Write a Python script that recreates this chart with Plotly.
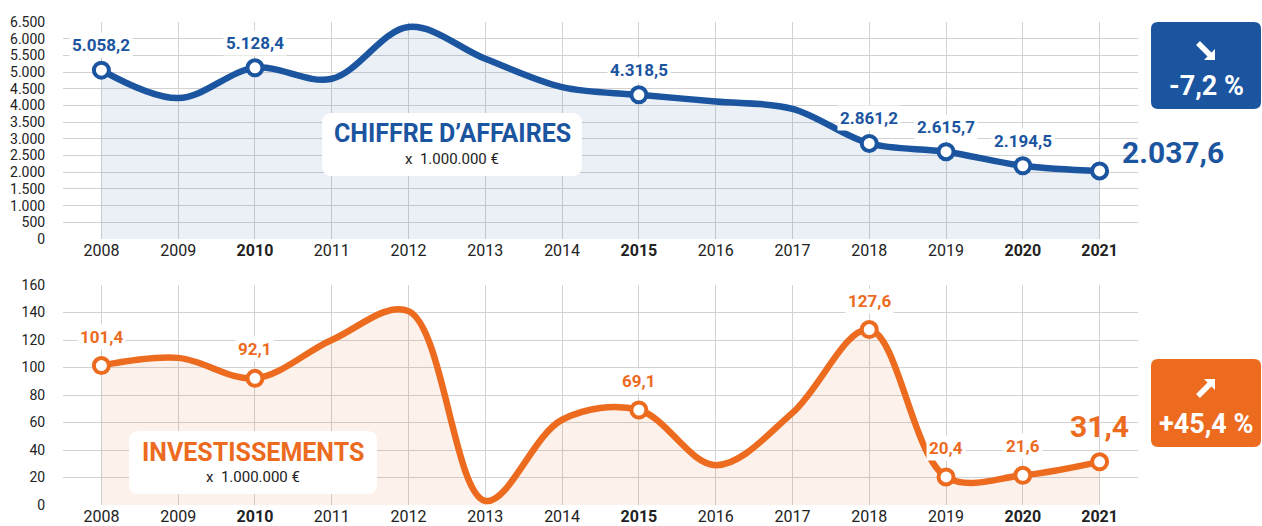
import plotly.graph_objects as go

years = ["2008", "2009", "2010", "2011", "2012", "2013", "2014", "2015", "2016", "2017", "2018", "2019", "2020", "2021"]
bold_years = ["2010", "2015", "2020", "2021"]
ca_values = [5058.2, 4220, 5128.4, 4800, 6350, 5400, 4550, 4318.5, 4120, 3900, 2861.2, 2615.7, 2194.5, 2037.6]
inv_values = [101.4, 107, 92.1, 120, 141, 3, 62, 69.1, 29, 67, 127.6, 20.4, 21.6, 31.4]
labeled_years = ["2008", "2010", "2015", "2018", "2019", "2020", "2021"]
ca_labels = ["5.058,2", "5.128,4", "4.318,5", "2.861,2", "2.615,7", "2.194,5", "2.037,6"]
inv_labels = ["101,4", "92,1", "69,1", "127,6", "20,4", "21,6", "31,4"]
ca_ticks = [0, 500, 1000, 1500, 2000, 2500, 3000, 3500, 4000, 4500, 5000, 5500, 6000, 6500]
ca_ticktext = ["0", "500", "1.000", "1.500", "2.000", "2.500", "3.000", "3.500", "4.000", "4.500", "5.000", "5.500", "6.000", "6.500"]
inv_ticks = [0, 20, 40, 60, 80, 100, 120, 140, 160]
ca_title = "CHIFFRE D’AFFAIRES"
inv_title = "INVESTISSEMENTS"
unit = "x  1.000.000 €"
ca_change = "-7,2 %"
inv_change = "+45,4 %"

BLUE = "#1b55a0"
ORANGE = "#ec6b1f"
GRID = "#d2d2d2"
FONT = "Roboto, sans-serif"
W, H = 1262, 526

xi = list(range(len(years)))
ticktext_x = [f"<b>{y}</b>" if y in bold_years else y for y in years]
lab_idx = [years.index(y) for y in labeled_years]

fig = go.Figure()

def add_series(vals, color, fillc, xa, ya):
    fig.add_trace(go.Scatter(x=xi, y=vals, mode="lines", line=dict(color=color, width=6.5, shape="spline", smoothing=1.0),
                             fill="tozeroy", fillcolor=fillc, xaxis=xa, yaxis=ya, hoverinfo="skip", showlegend=False))
    fig.add_trace(go.Scatter(x=[xi[i] for i in lab_idx], y=[vals[i] for i in lab_idx], mode="markers",
                             marker=dict(size=15, color="white", line=dict(color=color, width=4)),
                             xaxis=xa, yaxis=ya, hoverinfo="skip", showlegend=False))

add_series(ca_values, BLUE, "rgba(27,85,160,0.09)", "x", "y")
add_series(inv_values, ORANGE, "rgba(236,107,31,0.09)", "x2", "y2")

def px2x(x):
    return x / W

def px2y(y):
    return 1 - y / H

xdom = [px2x(63), px2x(1138)]
axis_common = dict(showgrid=True, gridcolor=GRID, gridwidth=1, zeroline=False, showline=False, automargin=False)
fig.update_layout(
    template="none",
    width=W, height=H, margin=dict(l=0, r=0, t=0, b=0, pad=0), autosize=False,
    paper_bgcolor="white", plot_bgcolor="white",
    font=dict(family=FONT, color="#222"),
    xaxis=dict(domain=xdom, range=[-0.5, 13.5], tickvals=xi, ticktext=ticktext_x, tickfont=dict(size=16, color="#222"),
               ticks="", anchor="y", **axis_common),
    yaxis=dict(domain=[px2y(239), px2y(22)], range=[0, 6500], tickvals=ca_ticks, ticktext=ca_ticktext,
               tickfont=dict(size=14, color="#222"), ticks="outside", ticklen=14, tickcolor="rgba(0,0,0,0)",
               anchor="x", **axis_common),
    xaxis2=dict(domain=xdom, range=[-0.5, 13.5], tickvals=xi, ticktext=ticktext_x, tickfont=dict(size=16, color="#222"),
                ticks="", anchor="y2", **axis_common),
    yaxis2=dict(domain=[px2y(505), px2y(285)], range=[0, 160], tickvals=inv_ticks,
                tickfont=dict(size=14, color="#222"), ticks="outside", ticklen=14, tickcolor="rgba(0,0,0,0)",
                anchor="x2", **axis_common),
)

# point labels
for k, i in enumerate(lab_idx):
    last = (i == len(years) - 1)
    if last:
        fig.add_annotation(x=xi[i], y=ca_values[i], xref="x", yref="y", text=f"<b>{ca_labels[k]}</b>", showarrow=False,
                           xanchor="left", xshift=20, yshift=18, font=dict(size=30, color=BLUE, family=FONT))
        fig.add_annotation(x=xi[i], y=inv_values[i], xref="x2", yref="y2", text=f"<b>{inv_labels[k]}</b>", showarrow=False,
                           yshift=35, font=dict(size=30, color=ORANGE, family=FONT))
    else:
        fig.add_annotation(x=xi[i], y=ca_values[i], xref="x", yref="y", text=f"<b>{ca_labels[k]}</b>", showarrow=False,
                           yshift=25, bgcolor="white", borderpad=2, font=dict(size=17, color=BLUE, family=FONT))
        fig.add_annotation(x=xi[i], y=inv_values[i], xref="x2", yref="y2", text=f"<b>{inv_labels[k]}</b>", showarrow=False,
                           yshift=29, bgcolor="white", borderpad=2, font=dict(size=17, color=ORANGE, family=FONT))

def rrect(x0, y0, x1, y1, r, color):
    X0, X1 = px2x(x0), px2x(x1)
    Y0, Y1 = px2y(y0), px2y(y1)
    rx, ry = r / W, r / H
    path = (f"M {X0+rx} {Y0} L {X1-rx} {Y0} Q {X1} {Y0} {X1} {Y0-ry} "
            f"L {X1} {Y1+ry} Q {X1} {Y1} {X1-rx} {Y1} L {X0+rx} {Y1} Q {X0} {Y1} {X0} {Y1+ry} "
            f"L {X0} {Y0-ry} Q {X0} {Y0} {X0+rx} {Y0} Z")
    fig.add_shape(type="path", path=path, xref="paper", yref="paper", fillcolor=color, line=dict(width=0), layer="above")

def txt(x, y, text, size, color, bold=False):
    fig.add_annotation(x=px2x(x), y=px2y(y), xref="paper", yref="paper", text=f"<b>{text}</b>" if bold else text,
                       showarrow=False, font=dict(size=size, color=color, family=FONT), xanchor="center", yanchor="middle")

def arrow(cx, cy, down, r=9):
    # thick diagonal arrow drawn in pixel space; down=True -> south-east, else north-east
    s = 1 if down else -1
    tip = (cx + r, cy + r * s)
    head = [tip, (cx + r, cy - 2 * s), (cx - 2, cy + r * s)]
    pts = [(px2x(a), px2y(b)) for a, b in head]
    path = "M " + " L ".join(f"{a} {b}" for a, b in pts) + " Z"
    fig.add_shape(type="path", path=path, xref="paper", yref="paper", fillcolor="white", line=dict(width=0), layer="above")
    fig.add_shape(type="line", x0=px2x(cx - r + 1), y0=px2y(cy - (r - 1) * s), x1=px2x(cx + 4), y1=px2y(cy + 4 * s),
                  xref="paper", yref="paper", line=dict(color="white", width=5.5), layer="above")

# title boxes
rrect(322, 113, 582, 176, 10, "white")
txt(452, 133, ca_title, 25, BLUE, True)
txt(452, 159, unit, 15, "#222")
rrect(129, 431, 377, 494, 10, "white")
txt(253, 452, inv_title, 25, ORANGE, True)
txt(253, 477, unit, 15, "#222")

# badges
rrect(1151, 22, 1261, 109, 7, BLUE)
arrow(1206, 51, True)
txt(1206, 86, ca_change, 27, "white", True)
rrect(1151, 359, 1261, 447, 7, ORANGE)
arrow(1206, 388, False)
txt(1206, 424, inv_change, 27, "white", True)

fig.write_html("out.html", config={"displayModeBar": False},
               post_script="document.body.style.margin='0';document.body.style.overflow='hidden';")
